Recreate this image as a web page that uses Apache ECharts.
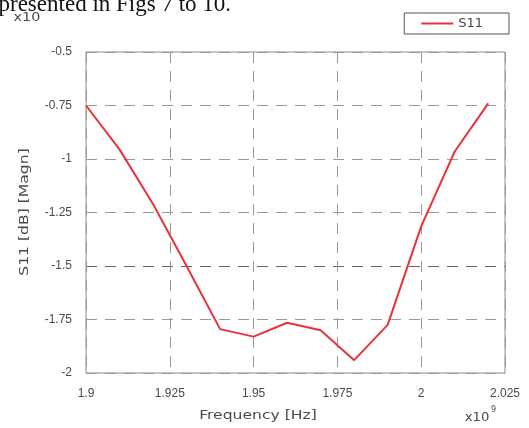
<!DOCTYPE html>
<html>
<head>
<meta charset="utf-8">
<script src="https://cdn.jsdelivr.net/npm/echarts@6/dist/echarts.min.js"></script>
<style>
html,body{margin:0;padding:0;background:#fff;}
#chart{width:529px;height:428px;}
</style>
</head>
<body>
<div id="chart"></div>
<script>
// Frequency (x10^9 Hz)
const freq = [1.90, 1.91, 1.92, 1.93, 1.94, 1.95, 1.96, 1.97, 1.98, 1.99, 2.00, 2.01, 2.02];
// S11 [dB] (x10)
const s11 = [-0.75, -0.955, -1.21, -1.50, -1.795, -1.83, -1.765, -1.80, -1.94, -1.775, -1.315, -0.965, -0.74];
const seriesName = 'S11';
const xTicks = [1.9, 1.925, 1.95, 1.975, 2, 2.025];
const yTicks = [-2, -1.75, -1.5, -1.25, -1, -0.75, -0.5];

const chart = echarts.init(document.getElementById('chart'), null, {renderer: 'canvas'});
const labelFont = {fontFamily: 'Liberation Sans', fontSize: 12, color: '#4a4a4a'};
const gridColor = '#999';
chart.setOption({
  animation: false,
  backgroundColor: '#fff',
  grid: {left: 86, right: 24, top: 52, bottom: 55, show: true, borderColor: '#8a8a8a', borderWidth: 1},
  legend: {
    data: [seriesName], right: 20, top: 13, itemWidth: 32, itemHeight: 2, icon: 'rect',
    backgroundColor: '#fff', borderColor: '#555', borderWidth: 1, borderRadius: 0,
    padding: [4, 26, 4, 17], itemGap: 2,
    textStyle: {fontFamily: 'DejaVu Sans', fontSize: 13, color: '#4a4a4a'}
  },
  xAxis: {
    type: 'value', min: xTicks[0], max: xTicks[xTicks.length - 1], interval: 0.025,
    axisLine: {show: false}, axisTick: {show: false},
    axisLabel: Object.assign({margin: 15, formatter: v => String(+v.toFixed(3))}, labelFont),
    splitLine: {show: true, lineStyle: {color: gridColor, type: [11, 8], width: 1}}
  },
  yAxis: {
    type: 'value', min: yTicks[0], max: yTicks[yTicks.length - 1], interval: 0.25,
    axisLine: {show: false}, axisTick: {show: false},
    axisLabel: Object.assign({margin: 14, formatter: v => String(+v.toFixed(2))}, labelFont),
    splitLine: {show: true, lineStyle: {color: [gridColor, gridColor, '#666', gridColor, gridColor, gridColor, gridColor], type: [11, 8], width: 1}}
  },
  graphic: [
    {type: 'text', style: {text: 'presented in Figs 7 to 10.', x: -1.5, y: -6.6, font: '23px "Liberation Serif"', fill: '#111'}},
    {type: 'text', x: 27, y: 18, scaleX: 1.2, style: {text: 'x10', textAlign: 'center', textVerticalAlign: 'middle', font: '12px "DejaVu Sans"', fill: '#4a4a4a'}},
    {type: 'text', x: 258, y: 416, scaleX: 1.3, style: {text: 'Frequency [Hz]', textAlign: 'center', textVerticalAlign: 'middle', font: '12px "DejaVu Sans"', fill: '#4a4a4a'}},
    {type: 'text', x: 477, y: 418, scaleX: 1.1, style: {text: 'x10', textAlign: 'center', textVerticalAlign: 'middle', font: '12px "DejaVu Sans"', fill: '#4a4a4a'}},
    {type: 'text', style: {text: '9', x: 491, y: 410, textVerticalAlign: 'middle', font: '8px "DejaVu Sans"', fill: '#4a4a4a'}},
    {type: 'text', rotation: Math.PI / 2, x: 25, y: 212, scaleX: 1.3, style: {text: 'S11 [dB] [Magn]', textAlign: 'center', textVerticalAlign: 'middle', font: '12px "DejaVu Sans"', fill: '#4a4a4a'}}
  ],
  series: [{
    name: seriesName, type: 'line', symbol: 'none',
    data: freq.map((f, i) => [f, s11[i]]),
    lineStyle: {color: '#e8323c', width: 2}, itemStyle: {color: '#e8323c'}
  }]
});
</script>
</body>
</html>
